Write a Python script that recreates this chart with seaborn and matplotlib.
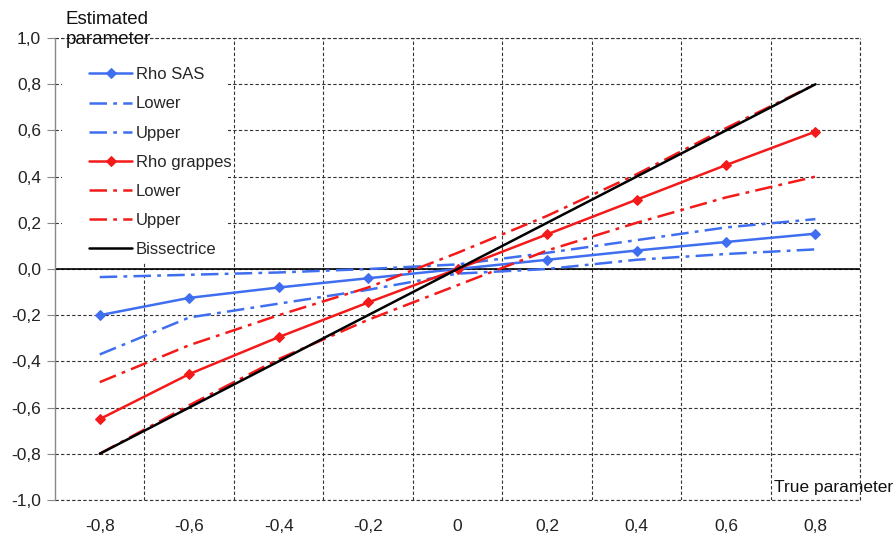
import numpy as np
import pandas as pd
import seaborn as sns
from matplotlib import pyplot as plt
from matplotlib.patches import Rectangle
from matplotlib.ticker import FixedLocator, FuncFormatter

true_param = [-0.8, -0.6, -0.4, -0.2, 0.0, 0.2, 0.4, 0.6, 0.8]

rho_sas = [-0.20, -0.125, -0.08, -0.04, 0.0, 0.04, 0.08, 0.117, 0.153]
sas_lower = [-0.37, -0.21, -0.15, -0.09, -0.02, 0.0, 0.04, 0.065, 0.085]
sas_upper = [-0.035, -0.025, -0.015, 0.0, 0.02, 0.07, 0.125, 0.18, 0.216]

rho_grappes = [-0.65, -0.455, -0.295, -0.145, 0.0, 0.15, 0.30, 0.45, 0.595]
grappes_lower = [-0.80, -0.59, -0.39, -0.22, -0.07, 0.08, 0.20, 0.31, 0.40]
grappes_upper = [-0.49, -0.33, -0.20, -0.08, 0.07, 0.23, 0.41, 0.61, 0.80]

bissectrice = [-0.8, -0.6, -0.4, -0.2, 0.0, 0.2, 0.4, 0.6, 0.8]

y_ticks = [-1.0, -0.8, -0.6, -0.4, -0.2, 0.0, 0.2, 0.4, 0.6, 0.8, 1.0]
x_grid = [-0.7, -0.5, -0.3, -0.1, 0.1, 0.3, 0.5, 0.7, 0.9]

BLUE = "#3f6ff0"
RED = "#f41a1a"
DASHDOT = (0, (7, 2.5, 1.5, 2.5))
GRID = dict(linestyle=(0, (3, 2)), color="#333333", linewidth=0.8)

sns.set_style("white")
plt.rcParams["font.family"] = ["Liberation Sans", "DejaVu Sans"]

fig = plt.figure(figsize=(8.96, 5.44), dpi=100)
ax = fig.add_axes([0.0614, 0.081, 0.8986, 0.849])

series = [
    (rho_sas, "Rho SAS", BLUE, "-", "D"),
    (sas_lower, "Lower", BLUE, DASHDOT, None),
    (sas_upper, "Upper", BLUE, DASHDOT, None),
    (rho_grappes, "Rho grappes", RED, "-", "D"),
    (grappes_lower, "Lower", RED, DASHDOT, None),
    (grappes_upper, "Upper", RED, DASHDOT, None),
    (bissectrice, "Bissectrice", "black", "-", None),
]

for values, label, color, ls, marker in series:
    sns.lineplot(
        x=true_param, y=values, ax=ax, color=color, linestyle=ls,
        marker=marker, markersize=5.5, markeredgecolor=color,
        linewidth=1.8, label=label, zorder=3,
    )

ax.axhline(0, color="black", linewidth=1.2, zorder=2)

ax.set_xlim(-0.9, 0.9)
ax.set_ylim(-1.0, 1.0)

# decimal comma labels
comma = FuncFormatter(lambda v, pos: f"{v:.1f}".replace(".", ",").replace("-0,0", "0,0"))
ax.yaxis.set_major_locator(FixedLocator(y_ticks))
ax.yaxis.set_major_formatter(comma)
ax.xaxis.set_major_locator(FixedLocator(true_param))
ax.xaxis.set_major_formatter(FuncFormatter(
    lambda v, pos: "0" if abs(v) < 1e-9 else f"{v:.1f}".replace(".", ",")))
ax.xaxis.set_minor_locator(FixedLocator(x_grid))

ax.grid(True, axis="y", which="major", **GRID)
ax.grid(True, axis="x", which="minor", **GRID)
ax.grid(False, axis="x", which="major")
# border gridlines at the limits
ax.axhline(-1.0, clip_on=False, zorder=1, **GRID)
ax.axhline(1.0, clip_on=False, zorder=1, **GRID)
ax.axvline(0.9, clip_on=False, zorder=1, **GRID)

for side in ["top", "right", "bottom"]:
    ax.spines[side].set_visible(False)
ax.spines["left"].set_color("#888888")
ax.spines["left"].set_linewidth(1.0)

ax.tick_params(axis="y", which="major", left=True, length=6, color="#888888",
               labelsize=12.5, pad=4, labelcolor="#222222")
ax.tick_params(axis="x", which="both", bottom=False, labelsize=12.5, pad=10,
               labelcolor="#222222")
ax.set_xlabel("")
ax.set_ylabel("")

# white legend area, as in the spreadsheet chart
ax.add_patch(Rectangle((0.009, 0.515), 0.206, 0.481, transform=ax.transAxes,
                       facecolor="white", edgecolor="none", zorder=2))
leg = ax.legend(loc="upper left", bbox_to_anchor=(0.032, 0.955), frameon=False,
                fontsize=12, handlelength=2.6, handletextpad=0.2,
                labelspacing=0.85, borderpad=0.5, borderaxespad=0)
leg.set_zorder(5)

fig.text(0.073, 0.98, "Estimated\nparameter", ha="left", va="top",
         fontsize=13.5, color="#111111", linespacing=1.25)
fig.text(0.997, 0.104, "True parameter", ha="right", va="center",
         fontsize=12.5, color="#111111")

plt.savefig("out.png", dpi=100)
